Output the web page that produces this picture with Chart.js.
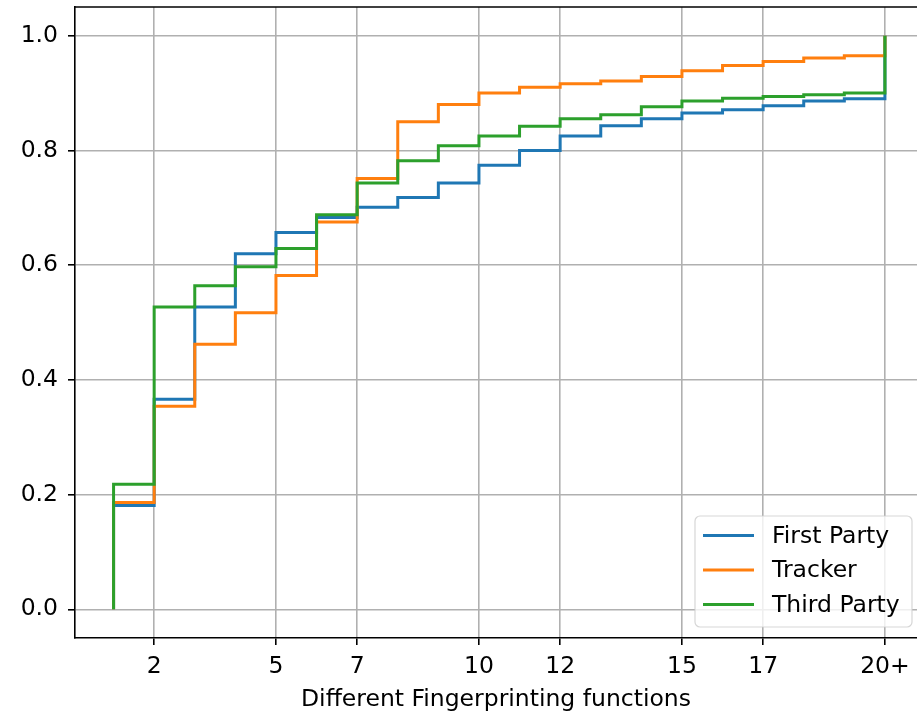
<!DOCTYPE html>
<html>
<head>
<meta charset="utf-8">
<script src="https://cdn.jsdelivr.net/npm/chart.js@4/dist/chart.umd.min.js"></script>
<style>
  html, body { margin: 0; padding: 0; background: #fff; overflow: hidden; }
  canvas { display: block; }
</style>
</head>
<body>
<canvas id="cdfChart" width="917" height="711"></canvas>
<script>
// x positions of the steps (the first one is the start of the CDF at 0)
const xSteps = [1, 1, 2, 3, 4, 5, 6, 7, 8, 9, 10, 11, 12, 13, 14, 15, 16, 17, 18, 19, 20];

const firstParty = [0, 0.181, 0.366, 0.527, 0.620, 0.657, 0.683, 0.701, 0.718, 0.743, 0.774,
    0.800, 0.825, 0.843, 0.855, 0.865, 0.871, 0.878, 0.886, 0.890, 1.0];
const tracker = [0, 0.186, 0.354, 0.462, 0.517, 0.582, 0.675, 0.751, 0.850, 0.880, 0.900,
    0.910, 0.916, 0.921, 0.929, 0.939, 0.948, 0.955, 0.961, 0.965, 1.0];
const thirdParty = [0, 0.218, 0.527, 0.564, 0.597, 0.629, 0.688, 0.743, 0.782, 0.808, 0.825,
    0.842, 0.855, 0.862, 0.876, 0.886, 0.891, 0.894, 0.897, 0.900, 1.0];

const xTickValues = [2, 5, 7, 10, 12, 15, 17, 20];
const xTickLabels = ['2', '5', '7', '10', '12', '15', '17', '20+'];
const yTickValues = [0, 0.2, 0.4, 0.6, 0.8, 1.0];

const seriesNames = ['First Party', 'Tracker', 'Third Party'];
const seriesColors = ['#1f77b4', '#ff7f0e', '#2ca02c'];

const FONT_SIZE = 23.5;
Chart.defaults.font.family = "'DejaVu Sans', sans-serif";
Chart.defaults.font.size = FONT_SIZE;
Chart.defaults.color = '#000';

function toPoints(values) {
    return values.map((v, i) => ({x: xSteps[i], y: v}));
}

// top spine and the legend box, drawn like matplotlib does
const framePlugin = {
    id: 'frame',
    afterDraw(chart) {
        const ctx = chart.ctx;
        const ca = chart.chartArea;
        ctx.save();
        ctx.strokeStyle = '#000';
        ctx.lineWidth = 1.6;
        ctx.beginPath();
        ctx.moveTo(ca.left - 0.8, ca.top);
        ctx.lineTo(ca.right, ca.top);
        ctx.stroke();

        // legend, lower right
        const boxRight = ca.right - 5;
        const boxBottom = ca.bottom - 11;
        const boxW = 217;
        const boxH = 111;
        const boxLeft = boxRight - boxW;
        const boxTop = boxBottom - boxH;
        ctx.beginPath();
        ctx.roundRect(boxLeft, boxTop, boxW, boxH, 5);
        ctx.fillStyle = 'rgba(255,255,255,0.8)';
        ctx.fill();
        ctx.strokeStyle = 'rgba(204,204,204,0.8)';
        ctx.lineWidth = 1.2;
        ctx.stroke();

        ctx.font = FONT_SIZE + "px 'DejaVu Sans'";
        ctx.textBaseline = 'middle';
        ctx.textAlign = 'left';
        chart.data.datasets.forEach((ds, i) => {
            const y = boxTop + 19.5 + i * 34.5;
            ctx.strokeStyle = ds.borderColor;
            ctx.lineWidth = 3;
            ctx.beginPath();
            ctx.moveTo(boxLeft + 8, y);
            ctx.lineTo(boxLeft + 59, y);
            ctx.stroke();
            ctx.fillStyle = '#000';
            ctx.fillText(ds.label, boxLeft + 77, y + 1);
        });
        ctx.restore();
    }
};

const allSeries = [firstParty, tracker, thirdParty];

const cdfChart = new Chart(document.getElementById('cdfChart').getContext('2d'), {
    type: 'line',
    data: {
        datasets: allSeries.map((values, i) => ({
            label: seriesNames[i],
            data: toPoints(values),
            borderColor: seriesColors[i],
            backgroundColor: seriesColors[i],
            borderWidth: 3,
            pointRadius: 0,
            fill: false,
            stepped: true,
            order: 3 - i
        }))
    },
    options: {
        responsive: false,
        animation: false,
        layout: {padding: {top: 7, left: 0, right: 0, bottom: 0}},
        plugins: {
            legend: {display: false},
            tooltip: {enabled: false}
        },
        scales: {
            x: {
                type: 'linear',
                min: 0.05,
                max: 20.79,
                afterFit(axis) {
                    axis.height = 73;
                    axis.paddingLeft = 0;
                    axis.paddingRight = 0;
                },
                afterBuildTicks(axis) { axis.ticks = xTickValues.map(v => ({value: v})); },
                ticks: {
                    autoSkip: false,
                    maxRotation: 0,
                    padding: 8,
                    callback: (value, index) => xTickLabels[index]
                },
                grid: {
                    color: '#b0b0b0',
                    lineWidth: 1.6,
                    tickColor: '#000',
                    tickWidth: 1.6,
                    tickLength: 7
                },
                border: {color: '#000', width: 1.6},
                title: {
                    display: true,
                    text: 'Different Fingerprinting functions',
                    padding: {top: 0, bottom: -3}
                }
            },
            y: {
                type: 'linear',
                min: -0.05,
                max: 1.05,
                afterFit(axis) {
                    axis.width = 75;
                    axis.paddingTop = 0;
                    axis.paddingBottom = 0;
                },
                afterBuildTicks(axis) { axis.ticks = yTickValues.map(v => ({value: v})); },
                ticks: {
                    padding: 10,
                    callback: (value) => value.toFixed(1)
                },
                grid: {
                    color: '#b0b0b0',
                    lineWidth: 1.6,
                    tickColor: '#000',
                    tickWidth: 1.6,
                    tickLength: 7
                },
                border: {color: '#000', width: 1.6}
            }
        }
    },
    plugins: [framePlugin]
});
</script>
</body>
</html>
